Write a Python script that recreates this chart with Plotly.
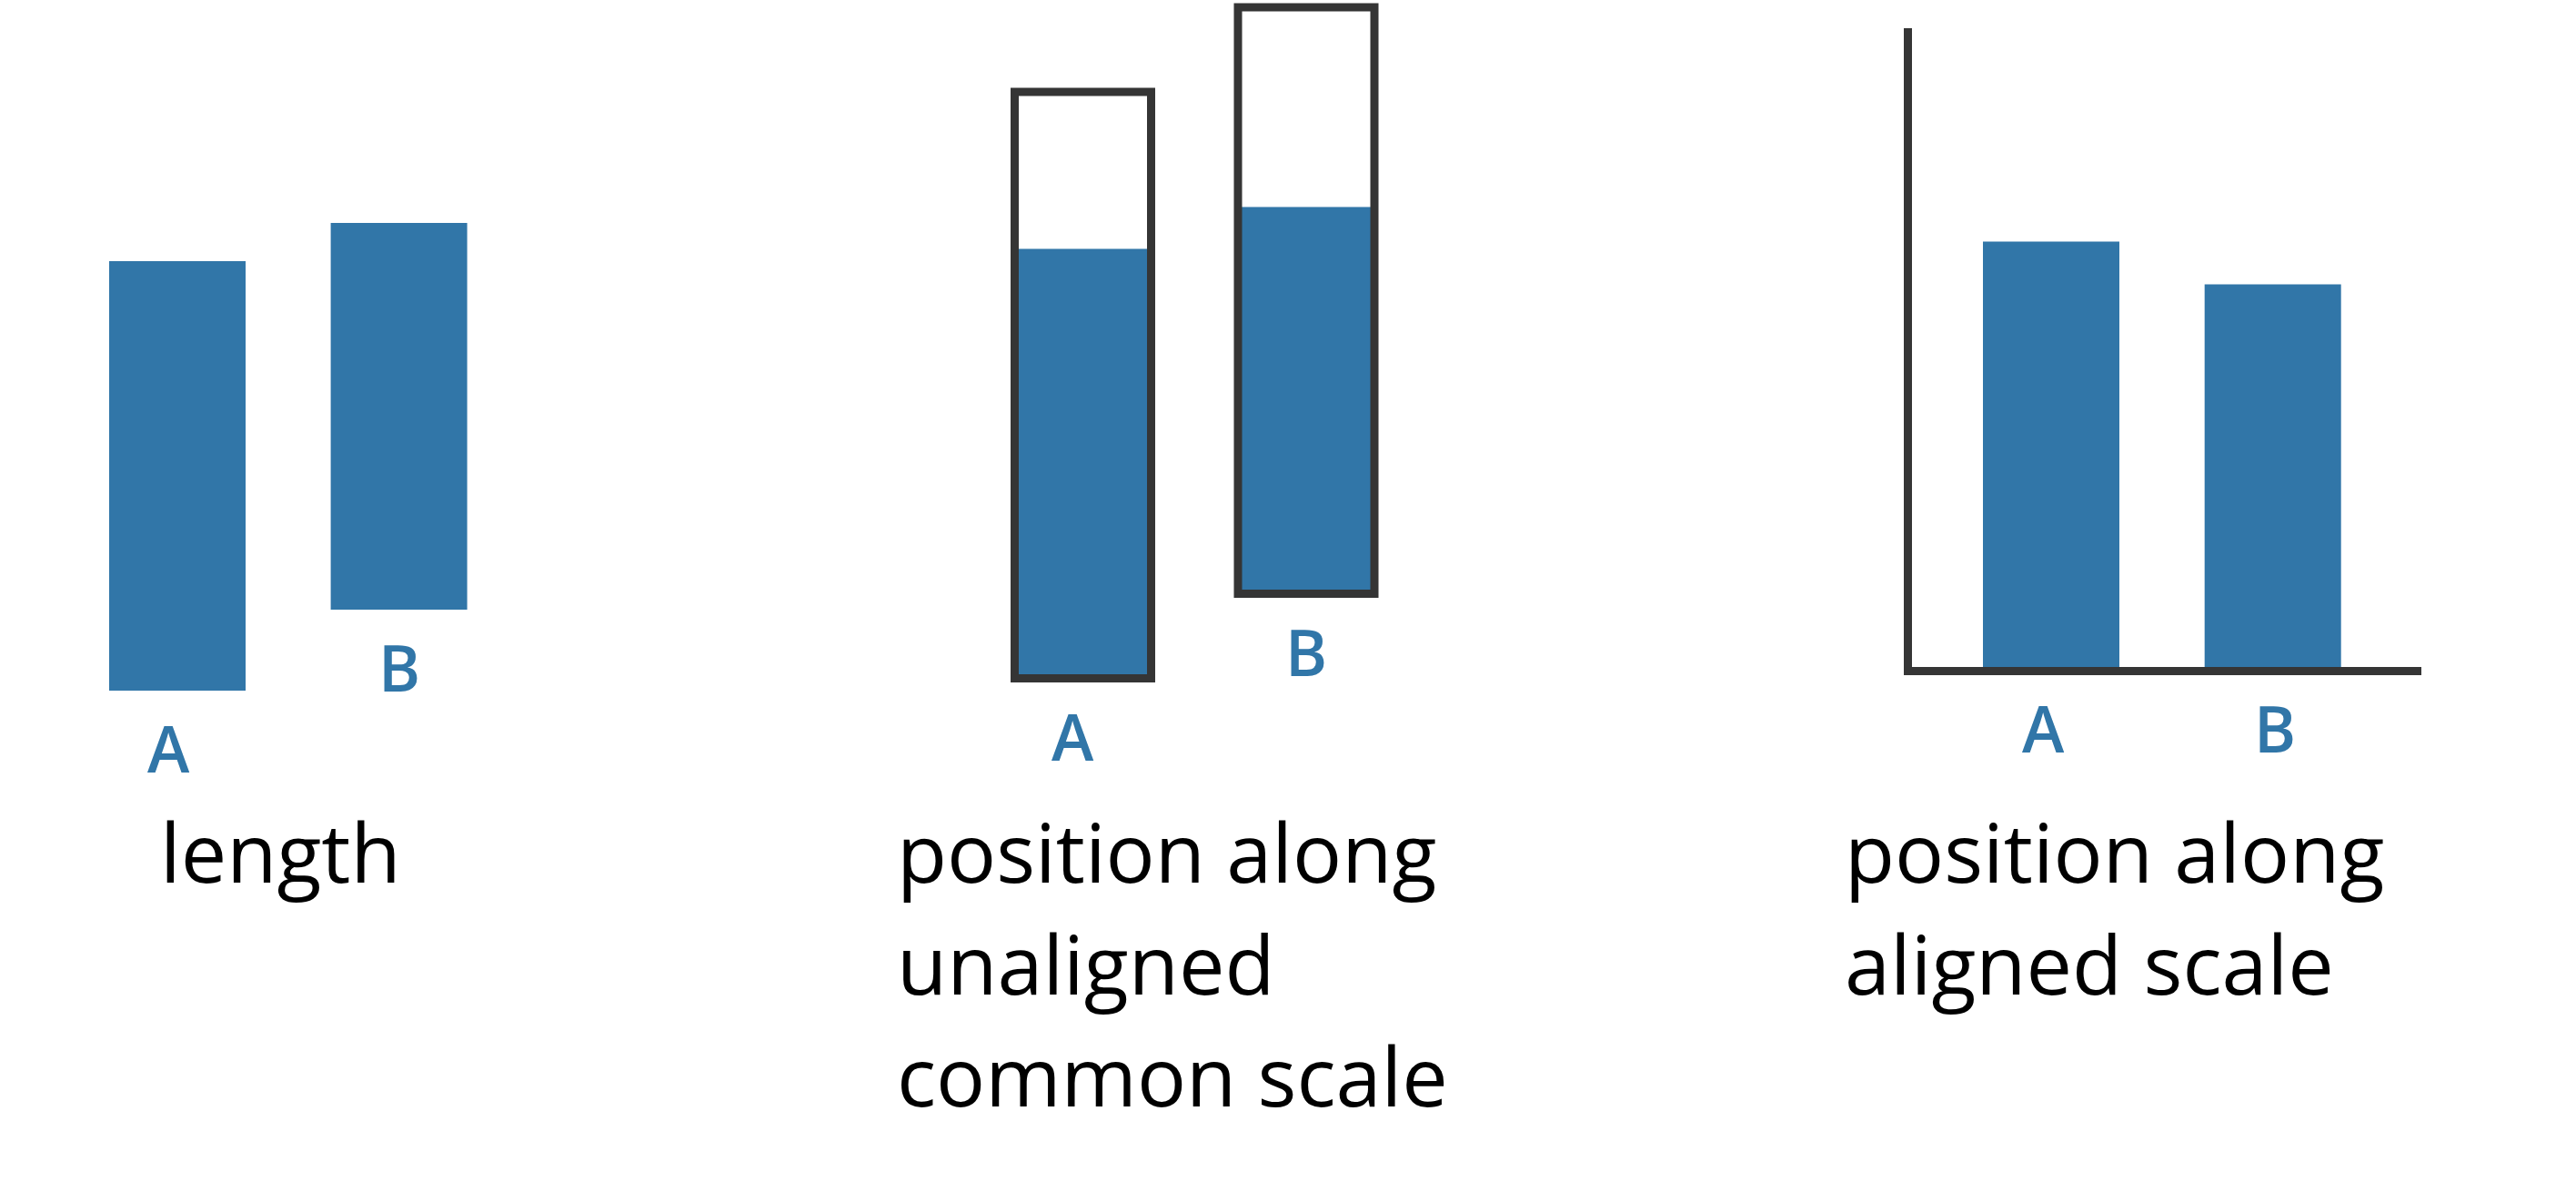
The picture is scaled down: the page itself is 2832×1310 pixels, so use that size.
import plotly.graph_objects as go

# ---------------- data ----------------
categories = ["A", "B"]
values = [47.2, 42.5]            # the two quantities compared in every panel
length_offset = [55.1, 64.0]     # panel 1: where each free-floating bar starts
scale_offset = [56.45, 65.75]    # panel 2: where each framed scale starts
scale_extent = [64.45, 64.45]    # panel 2: full length of each framed (common) scale
captions = [
    ["length"],
    ["position along", "unaligned", "common scale"],
    ["position along", "aligned scale"],
]

# ---------------- style / layout ----------------
W, H = 2832, 1310
BLUE = "#3176a8"
DARK = "#353535"
FONT = "Open Sans"
UNIT_PX = 10.0  # pixels per data unit (same for every panel)

# panel geometry in pixels: x-domain, first category centre, category spacing
panels = [
    dict(xa="x", ya="y", dom=(0, 760), c0=195.0, step=243.6),
    dict(xa="x2", ya="y2", dom=(900, 1800), c0=1190.5, step=245.5),
    dict(xa="x3", ya="y3", dom=(2102, 2662), c0=2255.0, step=243.7),
]
P3_TOP, P3_BOT, P3_ZERO = 31, 733, 737.4   # panel 3 plot area / zero line (px)
caption_left = [174, 984, 2026]
caption_size = 90
caption_first_top = 872
caption_line_gap = 123

fig = go.Figure()

# panel 1: length (bars floating at different offsets)
p = panels[0]
fig.add_trace(go.Bar(
    x=categories, y=values, base=length_offset,
    width=150 / p["step"], marker=dict(color=BLUE, line=dict(width=0)),
    xaxis=p["xa"], yaxis=p["ya"], hoverinfo="skip", showlegend=False,
))

# panel 2: position along unaligned common scale (fill + frame)
p = panels[1]
fig.add_trace(go.Bar(
    x=categories, y=values, base=scale_offset,
    width=150 / p["step"], marker=dict(color=BLUE, line=dict(width=0)),
    xaxis=p["xa"], yaxis=p["ya"], hoverinfo="skip", showlegend=False,
))
fig.add_trace(go.Bar(
    x=categories, y=scale_extent, base=scale_offset,
    width=150 / p["step"],
    marker=dict(color="rgba(0,0,0,0)", line=dict(width=9, color=DARK)),
    xaxis=p["xa"], yaxis=p["ya"], hoverinfo="skip", showlegend=False,
))

# panel 3: position along aligned scale
p = panels[2]
fig.add_trace(go.Bar(
    x=categories, y=values, base=[0, 0],
    width=150 / p["step"], marker=dict(color=BLUE, line=dict(width=0)),
    xaxis=p["xa"], yaxis=p["ya"], hoverinfo="skip", showlegend=False,
))

hidden = dict(showgrid=False, zeroline=False, showticklabels=False, ticks="",
              showline=False, fixedrange=True)

layout = dict(
    width=W, height=H, margin=dict(l=0, r=0, t=0, b=0),
    paper_bgcolor="white", plot_bgcolor="rgba(0,0,0,0)",
    barmode="overlay", showlegend=False, hovermode=False,
    font=dict(family=FONT),
)

for i, p in enumerate(panels):
    sfx = "" if i == 0 else str(i + 1)
    d0, d1 = p["dom"]
    xr = [(d0 - p["c0"]) / p["step"], (d1 - p["c0"]) / p["step"]]
    xa = dict(hidden, type="category", categoryorder="array", categoryarray=categories,
              domain=[d0 / W, d1 / W], range=xr, anchor="y" + sfx)
    if i < 2:
        ya = dict(hidden, domain=[0, 1], range=[0, H / UNIT_PX], anchor="x" + sfx)
    else:
        ya = dict(hidden, domain=[1 - P3_BOT / H, 1 - P3_TOP / H],
                  range=[(P3_ZERO - P3_BOT) / UNIT_PX, (P3_ZERO - P3_TOP) / UNIT_PX],
                  anchor="x" + sfx)
        xa.update(showline=True, linewidth=9, linecolor=DARK, layer="above traces")
        ya.update(showline=True, linewidth=9, linecolor=DARK, layer="above traces")
    layout["xaxis" + sfx] = xa
    layout["yaxis" + sfx] = ya

fig.update_layout(**layout)

# category labels below each bar / scale
label_font = dict(family=FONT, size=70, color=BLUE, weight=600)
label_xshift = [{"A": -10, "B": 0}, {"A": -11, "B": 0}, {"A": -9, "B": 2}]
bases = [length_offset, scale_offset]
for i, p in enumerate(panels):
    for k, cat in enumerate(categories):
        if i < 2:
            yref, yval, ysh = p["ya"], bases[i][k], -13
        else:
            # aligned panel: labels hang from the common baseline (axis)
            yref, yval, ysh = p["ya"] + " domain", 0, -13 - (P3_ZERO - P3_BOT)
        fig.add_annotation(
            x=cat, y=yval, xref=p["xa"], yref=yref,
            text=cat, showarrow=False, xanchor="center", yanchor="top",
            xshift=label_xshift[i][cat], yshift=ysh, font=label_font,
        )

# captions
for i, lines in enumerate(captions):
    for j, line in enumerate(lines):
        fig.add_annotation(
            x=caption_left[i] / W, y=1 - (caption_first_top + j * caption_line_gap) / H,
            xref="paper", yref="paper", text=line, showarrow=False,
            xanchor="left", yanchor="top",
            font=dict(family=FONT, size=caption_size, color="black"),
        )

fig.write_html(
    "out.html",
    config={"displayModeBar": False, "staticPlot": True},
    post_script="document.body.style.margin='0';document.body.style.overflow='hidden';",
)
